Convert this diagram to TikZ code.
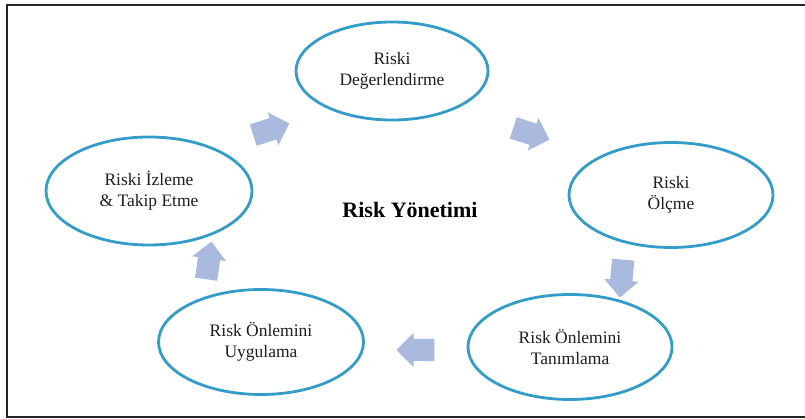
\documentclass[tikz,border=0pt]{standalone}
\usepackage{fontspec}
\setmainfont{Liberation Serif}
\usetikzlibrary{shapes.geometric,shapes.arrows}
\definecolor{ringc}{RGB}{52,156,200}
\definecolor{arrowc}{RGB}{170,186,222}
\definecolor{txtc}{RGB}{30,30,30}
\tikzset{
  stage/.style={ellipse, draw=ringc, line width=2.8pt, fill=white, inner sep=0pt,
    minimum width=206pt, minimum height=104pt, align=center, text=txtc,
    font=\fontsize{17.5}{21}\selectfont},
  flow/.style={single arrow, draw=none, fill=arrowc, inner xsep=0pt, inner ysep=11pt,
    minimum height=38pt, single arrow head extend=6pt}
}
\begin{document}
\begin{tikzpicture}[x=1pt,y=-1pt]
\useasboundingbox (0,0) rectangle (805,419);
\draw[line width=2.2pt, draw=black!85] (812,5) -- (7,5) -- (7,417) -- (812,417);
\node[stage, minimum width=192pt, minimum height=98pt] (deg) at (392,71) {Riski\\Değerlendirme};
\node[stage, minimum width=204pt, minimum height=105pt] (olc) at (671,195) {Riski\\Ölçme};
\node[stage, minimum width=204pt, minimum height=105pt] (tan) at (570,347) {Risk Önlemini\\Tanımlama};
\node[stage, minimum width=205pt, minimum height=105pt] (uyg) at (261,342) {Risk Önlemini\\Uygulama};
\node[stage, minimum width=206pt, minimum height=108pt] (izl) at (149,191) {Riski İzleme\\\& Takip Etme};
\node[font=\fontsize{22}{26}\selectfont\bfseries, text=black] (ry) at (410,210) {Risk Yönetimi};
\node[flow, rotate=-18] (a1) at (526,132) {};
\node[flow, rotate=-95] (a2) at (622,273) {};
\node[flow, rotate=180] (a3) at (421,350) {};
\node[flow, rotate=82] (a4) at (208,266) {};
\node[flow, rotate=18] (a5) at (266,131) {};
\end{tikzpicture}
\end{document}
